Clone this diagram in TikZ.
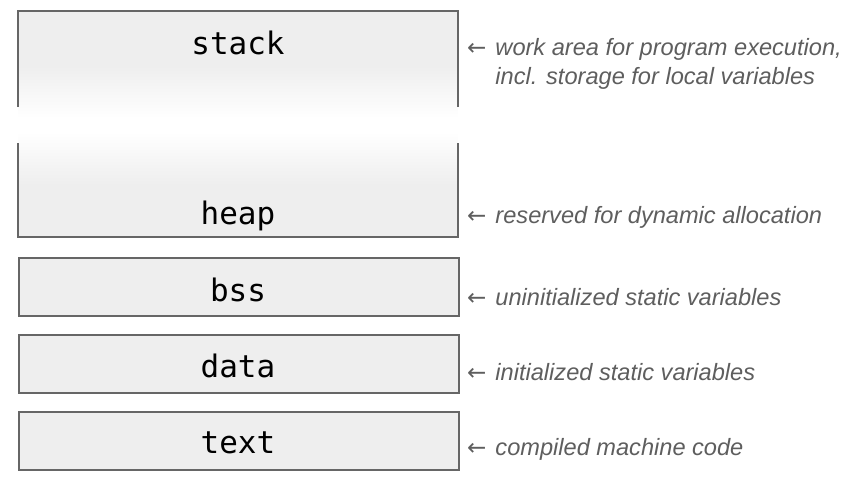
\documentclass[tikz,border=0pt]{standalone}
\usepackage{fontspec}
\newfontfamily\monofont{DejaVu Sans Mono}
\newfontfamily\lblfont{Liberation Sans}
\newfontfamily\arrfont{DejaVu Sans}
\definecolor{boxfill}{HTML}{EEEEEE}
\definecolor{boxline}{HTML}{666666}
\definecolor{lblcol}{HTML}{5E5E5E}
\newcommand{\arrsym}{{\arrfont\fontsize{23}{23}\selectfont ←}\hspace{9pt}}
\tikzset{
  segbox/.style={draw=boxline, line width=1.6pt, fill=boxfill, minimum width=440pt, minimum height=58pt, inner sep=0pt, anchor=north west},
  segname/.style={font=\monofont\fontsize{31}{31}\selectfont, anchor=base, inner sep=0pt},
  note/.style={font=\lblfont\itshape\fontsize{23.6}{29}\selectfont, text=lblcol, anchor=base west, inner sep=0pt, align=left},
  boxedge/.style={draw=boxline, line width=1.6pt}
}
\begin{document}
\begin{tikzpicture}[x=1pt,y=-1pt]
\useasboundingbox (0,0) rectangle (854,482);
% top box fill with fade
\fill[boxfill] (18,11) rectangle (458,66);
\shade[top color=boxfill, bottom color=white] (18,65.5) rectangle (458,118);
\fill[white] (18,117.5) rectangle (458,132.5);
\shade[top color=white, bottom color=boxfill] (18,132) rectangle (458,185);
\fill[boxfill] (18,184.5) rectangle (458,237);
\draw[boxedge] (18,107) -- (18,11) -- (458,11) -- (458,107);
\draw[boxedge] (18,143) -- (18,237) -- (458,237) -- (458,143);
\coordinate (topmid) at (238,54);
\coordinate (heapmid) at (238,224);
\node[segname] (stack) at (topmid) {stack};
\node[segname] (heap) at (heapmid) {heap};
% lower segments
\node[segbox] (bssbox) at (18,257) {};
\node[segbox] (databox) at (18,334) {};
\node[segbox] (textbox) at (18,411) {};
\node[segname] (bss) at (238,301) {bss};
\node[segname] (data) at (238,377) {data};
\node[segname] (text) at (238,453) {text};
% notes
\node[note] (n1) at (467,84) {\arrsym work area for program execution,\\\phantom{\arrsym}incl. storage for local variables};
\node[note] (n2) at (467,223) {\arrsym reserved for dynamic allocation};
\node[note] (n3) at (467,305) {\arrsym uninitialized static variables};
\node[note] (n4) at (467,380) {\arrsym initialized static variables};
\node[note] (n5) at (467,455) {\arrsym compiled machine code};
\end{tikzpicture}
\end{document}
